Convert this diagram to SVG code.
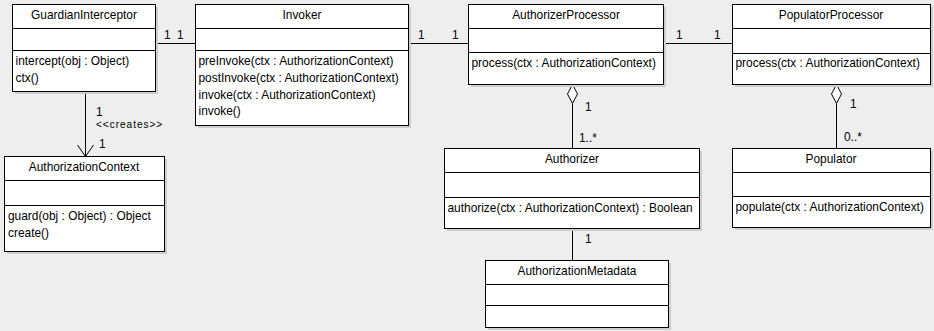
<svg xmlns="http://www.w3.org/2000/svg" width="934" height="331" viewBox="0 0 934 331">
  <style>
    .bg { fill: #eeeeee; }
    .box { fill: #ffffff; stroke: #000000; stroke-width: 1; shape-rendering: crispEdges; }
    .shadow { fill: #cdcdcd; shape-rendering: crispEdges; }
    .sep { stroke: #000000; stroke-width: 1; shape-rendering: crispEdges; }
    .edge { stroke: #000000; stroke-width: 1; fill: none; }
    .diamond { fill: #ffffff; stroke: #000000; stroke-width: 1; }
    text { font-family: "Liberation Sans", Arial, sans-serif; font-size: 11.9px; fill: #000000; }
    .title { text-anchor: middle; }
    .stereo { font-size: 10px; letter-spacing: 1px; }
  </style>

  <rect class="bg" x="0" y="0" width="934" height="331"/>

  <!-- associations and dependencies -->
  <g id="connectors">
    <line class="edge" x1="155.5" y1="43.5" x2="195.5" y2="43.5"/>
    <text x="164" y="39">1</text>
    <text x="177" y="39">1</text>

    <line class="edge" x1="408.5" y1="43.5" x2="468.5" y2="43.5"/>
    <text x="418" y="39">1</text>
    <text x="452" y="39">1</text>

    <line class="edge" x1="663.5" y1="43.5" x2="732.5" y2="43.5"/>
    <text x="676" y="39">1</text>
    <text x="714" y="39">1</text>

    <!-- aggregation: AuthorizerProcessor 1 <>- 1..* Authorizer -->
    <line class="edge" x1="572.5" y1="103.5" x2="572.5" y2="148.5"/>
    <polygon class="diamond" points="572.5,84.5 577.5,94 572.5,103.5 567.5,94"/>
    <text x="585" y="111">1</text>
    <text x="579" y="142">1..*</text>

    <!-- aggregation: PopulatorProcessor 1 <>- 0..* Populator -->
    <line class="edge" x1="836.5" y1="103.5" x2="836.5" y2="148.5"/>
    <polygon class="diamond" points="836.5,84.5 841.5,94 836.5,103.5 831.5,94"/>
    <text x="850" y="108">1</text>
    <text x="844" y="141">0..*</text>

    <!-- Authorizer - AuthorizationMetadata -->
    <line class="edge" x1="572.5" y1="228.5" x2="572.5" y2="260.5"/>
    <text x="585" y="243">1</text>

    <!-- creates dependency -->
    <line class="edge" x1="85.5" y1="91.5" x2="85.5" y2="156.5"/>
    <polyline class="edge" points="77.5,145 85.5,156.5 93.5,145"/>
    <text x="96" y="116">1</text>
    <text class="stereo" x="96" y="127.5">&lt;&lt;creates&gt;&gt;</text>
    <text x="99" y="148">1</text>
  </g>

  <g id="GuardianInterceptor">
    <rect class="shadow" x="14.5" y="6.5" width="143" height="87"/>
    <rect class="box" x="12.5" y="4.5" width="143" height="87"/>
    <line class="sep" x1="12.5" y1="28.5" x2="155.5" y2="28.5"/>
    <line class="sep" x1="12.5" y1="50.5" x2="155.5" y2="50.5"/>
    <text class="title" x="84" y="19">GuardianInterceptor</text>
    <text x="15.5" y="65">intercept(obj : Object)</text>
    <text x="15.5" y="82">ctx()</text>
  </g>

  <g id="Invoker">
    <rect class="shadow" x="197.5" y="6.5" width="213" height="121"/>
    <rect class="box" x="195.5" y="4.5" width="213" height="121"/>
    <line class="sep" x1="195.5" y1="28.5" x2="408.5" y2="28.5"/>
    <line class="sep" x1="195.5" y1="50.5" x2="408.5" y2="50.5"/>
    <text class="title" x="302" y="19">Invoker</text>
    <text x="198.5" y="65">preInvoke(ctx : AuthorizationContext)</text>
    <text x="198.5" y="82">postInvoke(ctx : AuthorizationContext)</text>
    <text x="198.5" y="98.5">invoke(ctx : AuthorizationContext)</text>
    <text x="198.5" y="115">invoke()</text>
  </g>

  <g id="AuthorizerProcessor">
    <rect class="shadow" x="470.5" y="6.5" width="195" height="80"/>
    <rect class="box" x="468.5" y="4.5" width="195" height="80"/>
    <line class="sep" x1="468.5" y1="28.5" x2="663.5" y2="28.5"/>
    <line class="sep" x1="468.5" y1="52.5" x2="663.5" y2="52.5"/>
    <text class="title" x="566" y="19">AuthorizerProcessor</text>
    <text x="471.5" y="67">process(ctx : AuthorizationContext)</text>
  </g>

  <g id="PopulatorProcessor">
    <rect class="shadow" x="734.5" y="6.5" width="198" height="80"/>
    <rect class="box" x="732.5" y="4.5" width="198" height="80"/>
    <line class="sep" x1="732.5" y1="28.5" x2="930.5" y2="28.5"/>
    <line class="sep" x1="732.5" y1="53.5" x2="930.5" y2="53.5"/>
    <text class="title" x="831" y="19">PopulatorProcessor</text>
    <text x="735.5" y="67">process(ctx : AuthorizationContext)</text>
  </g>

  <g id="Authorizer">
    <rect class="shadow" x="446.5" y="150.5" width="255" height="80"/>
    <rect class="box" x="444.5" y="148.5" width="255" height="80"/>
    <line class="sep" x1="444.5" y1="172.5" x2="699.5" y2="172.5"/>
    <line class="sep" x1="444.5" y1="197.5" x2="699.5" y2="197.5"/>
    <text class="title" x="572" y="163">Authorizer</text>
    <text x="447.5" y="212">authorize(ctx : AuthorizationContext) : Boolean</text>
  </g>

  <g id="Populator">
    <rect class="shadow" x="734.5" y="150.5" width="198" height="79"/>
    <rect class="box" x="732.5" y="148.5" width="198" height="79"/>
    <line class="sep" x1="732.5" y1="172.5" x2="930.5" y2="172.5"/>
    <line class="sep" x1="732.5" y1="196.5" x2="930.5" y2="196.5"/>
    <text class="title" x="831" y="163">Populator</text>
    <text x="735.5" y="211">populate(ctx : AuthorizationContext)</text>
  </g>

  <g id="AuthorizationMetadata">
    <rect class="shadow" x="487.5" y="262.5" width="183" height="67"/>
    <rect class="box" x="485.5" y="260.5" width="183" height="67"/>
    <line class="sep" x1="485.5" y1="284.5" x2="668.5" y2="284.5"/>
    <line class="sep" x1="485.5" y1="305.5" x2="668.5" y2="305.5"/>
    <text class="title" x="577" y="275">AuthorizationMetadata</text>
  </g>

  <g id="AuthorizationContext">
    <rect class="shadow" x="6.5" y="158.5" width="160" height="95"/>
    <rect class="box" x="4.5" y="156.5" width="160" height="95"/>
    <line class="sep" x1="4.5" y1="180.5" x2="164.5" y2="180.5"/>
    <line class="sep" x1="4.5" y1="205.5" x2="164.5" y2="205.5"/>
    <text class="title" x="84" y="171">AuthorizationContext</text>
    <text x="8" y="220">guard(obj : Object) : Object</text>
    <text x="8" y="237">create()</text>
  </g>
</svg>
